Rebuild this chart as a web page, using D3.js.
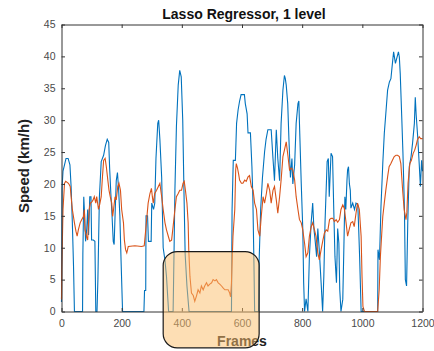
<html>
<head>
<title>Lasso Regressor, 1 level</title>
<script src="https://cdnjs.cloudflare.com/ajax/libs/d3/7.8.5/d3.min.js"></script>
<style>
	body { margin: 0; background: #fff; }
	text { font-family: "Liberation Sans", Arial, Helvetica, sans-serif; }
</style>
</head>
<body>
<div class="datavis"></div>
<script type="text/javascript">

// [frame, speed km/h]
var actual = [[0,1.5],[2,19.5],[5,22],[10,23],[15,24],[22,24],[28,23],[32,19.5],[36,14],[40,7],[43,0],[70,0],[71,9],[74,18],[77,15],[80,11],[84,13],[87,16],[90,12],[94,18],[98,18],[100,11.2],[106,11.2],[111,11],[114,0],[118,0],[121,5],[126,18],[132,23.5],[140,24.5],[146,26],[152,27],[157,26.5],[160,22.5],[164,18.5],[168,15],[172,11],[175,10.5],[178,15],[182,20.5],[186,21.8],[190,19],[194,15],[198,8],[203,0],[274,0],[276,3.3],[280,3.3],[281,15],[286,15],[289,11],[298,11],[300,17],[306,16],[310,17],[314,24],[320,29.5],[323,30],[327,27],[333,21],[338,10],[344,8],[349,5.5],[356,0],[371,0],[374,9],[377,19],[382,29],[388,35.5],[393,37.8],[398,36.8],[403,30],[407,19],[411,9],[417,4],[424,0],[565,0],[567,16],[571,23.7],[578,23.7],[582,29.5],[587,31.6],[592,33],[597,34],[608,34],[611,32.6],[617,31],[620,28],[628,28],[633,22.7],[636,18],[640,6.6],[642,0],[655,0],[657,8],[662,16],[668,21],[675,25],[680,27],[686,28.5],[697,28.5],[703,24],[708,20.5],[714,28.5],[719,24],[725,20.5],[730,29.5],[736,34.7],[741,37],[744,36.5],[747,35.5],[752,32.6],[756,27],[761,21],[766,24],[769,20],[775,23],[780,29.5],[786,32.6],[789,33],[791,29.5],[797,20],[802,13],[805,4.5],[808,0],[813,2],[819,0],[824,8.6],[830,14],[835,17],[839,13],[843,11.2],[848,8.6],[852,13],[857,9.5],[863,4.5],[868,0],[872,5.5],[876,14],[883,23.5],[887,24],[890,18],[896,24.8],[901,24.3],[905,16],[909,8.6],[914,4.5],[918,13],[922,10.7],[925,3.4],[929,0],[935,1.9],[938,8.6],[942,18],[945,16],[949,20.6],[951,22.2],[954,22.7],[957,20],[960,19],[962,16.2],[968,17],[974,16],[979,17],[985,16.7],[988,12.8],[991,8.6],[996,0],[1051,0],[1052,9.7],[1057,8.1],[1062,16.5],[1068,23.2],[1073,27.9],[1079,31.6],[1084,34.7],[1090,36],[1095,36.5],[1100,38.9],[1104,40.7],[1110,38.9],[1120,40.7],[1123,39.9],[1126,37.3],[1131,30.5],[1135,24.8],[1140,16],[1143,5],[1147,4],[1151,13.9],[1156,22.7],[1162,24.3],[1167,26.4],[1173,29.5],[1176,33.6],[1179,30.8],[1184,27.4],[1189,23.2],[1193,19.6],[1197,23.7],[1200,22]];

var predicted = [[0,1.9],[1,6.6],[5,16],[10,20.1],[14,20.4],[23,20.1],[29,19.6],[32,18],[36,16],[43,13.9],[48,12.6],[52,11.8],[56,12.8],[62,13.9],[67,14.4],[73,14.9],[76,16],[78,12.8],[83,11.8],[87,11.2],[92,16],[96,17],[101,17.2],[105,17.5],[109,18],[114,17],[117,18],[123,16],[127,16.8],[132,18],[136,21],[140,23.7],[145,24],[149,22.7],[154,20.6],[158,19],[162,18],[167,17],[170,14.9],[173,16],[178,18],[182,17.5],[187,19.6],[191,20.1],[196,19],[200,16],[206,13.9],[209,11.2],[213,9.7],[217,9.2],[222,10.2],[244,10.3],[266,10.2],[275,10.3],[280,12.8],[284,14.9],[288,17],[294,18.5],[299,19.3],[302,18],[305,17],[310,18.5],[316,19],[322,19.6],[327,20.1],[333,18],[338,16],[344,13.9],[349,12.8],[355,11.8],[360,11],[366,11.2],[371,13.3],[377,16],[382,18],[388,18.5],[393,19],[399,19],[404,20.1],[408,20.4],[412,19],[417,17],[421,13.9],[423,9.7],[427,5.5],[432,2.9],[438,2.5],[443,1.6],[449,2.5],[454,3.4],[460,2.9],[465,4],[471,3.4],[476,4],[482,4.5],[487,4],[493,4.3],[499,4.5],[504,5],[510,4.8],[515,5],[521,4.5],[526,4.3],[532,4],[537,3.7],[543,3.4],[554,3.4],[559,2.9],[562,2.3],[565,4.5],[570,11.8],[576,16],[579,22.2],[581,23.2],[585,22.5],[589,21.5],[592,20.6],[598,20.1],[603,20.1],[609,20.6],[614,20.4],[620,21.1],[625,21.3],[631,19.6],[637,19],[642,17],[648,16],[653,12.8],[659,11.8],[664,14.9],[670,18],[675,17],[681,18.5],[686,20.1],[692,19],[697,17],[703,19],[708,19.6],[714,17.5],[719,15.4],[725,18],[730,20.6],[736,24.3],[741,25.3],[747,26.6],[753,24.3],[758,22.2],[764,22.5],[769,22.2],[775,20.6],[780,18],[786,16],[791,14.4],[797,13.9],[802,12.8],[808,10.7],[813,8.6],[819,9.2],[824,11.8],[830,13.3],[835,13.9],[841,12.8],[846,11.8],[852,9.2],[857,8.1],[863,9.7],[869,11.2],[874,12.3],[880,12.8],[885,12.6],[891,14.4],[896,14.6],[902,14.6],[907,14.1],[913,14.4],[918,14],[924,14.4],[929,16],[935,16.7],[940,16.2],[946,13.9],[951,11.8],[957,13],[962,13.9],[968,14.1],[973,13.3],[979,15.4],[984,17],[990,16],[996,11.8],[999,5.5],[1002,0.8],[1007,0],[1051,0],[1056,3.4],[1060,8.6],[1064,11.8],[1068,14.9],[1073,17],[1078,19],[1084,21.1],[1089,22.7],[1095,23.2],[1100,23.7],[1106,24.3],[1112,24.5],[1117,24.5],[1123,24.3],[1128,23.2],[1134,19],[1139,16],[1145,14.4],[1148,15.5],[1152,20.1],[1158,23.2],[1163,23.7],[1169,24.8],[1174,25.3],[1179,26.1],[1183,26.9],[1189,27.4],[1194,27.1],[1200,27.1]];

var xTicks = [0, 200, 400, 600, 800, 1000, 1200];
var yTicks = [0, 5, 10, 15, 20, 25, 30, 35, 40, 45];

var titleText = "Lasso Regressor, 1 level";
var xLabelText = "Frames";
var yLabelText = "Speed (km/h)";

// highlighted stretch (frames, km/h)
var region = { x0: 338, x1: 657, y0: -5.7, y1: 9.4 };

var W = 434, H = 351;
var x = d3.scaleLinear().domain([0, 1200]).range([61.5, 422.5]);
var y = d3.scaleLinear().domain([0, 45]).range([311.5, 24.5]);
var fmt = d3.format("d");

var svg = d3.select(".datavis")
	.append("svg")
	.attr("width", W)
	.attr("height", H);

var line = d3.line()
	.x(function(d){ return x(d[0]); })
	.y(function(d){ return y(d[1]); });

svg.append("path")
	.datum(actual)
	.attr("d", line)
	.style("fill", "none")
	.style("stroke", "#0072BD")
	.style("stroke-width", 1.1);

svg.append("path")
	.datum(predicted)
	.attr("d", line)
	.style("fill", "none")
	.style("stroke", "#D95319")
	.style("stroke-width", 1.1);

function styleAxis(g){
	g.select(".domain").style("stroke", "#333").style("stroke-width", 1);
	g.selectAll(".tick line").style("stroke", "#333").style("stroke-width", 1);
	g.selectAll(".tick text")
		.style("fill", "#4a4a4a")
		.style("font-size", "10.5px")
		.style("font-family", "'Liberation Sans', Arial, sans-serif");
}

svg.append("g")
	.attr("transform", "translate(0," + y(0) + ")")
	.call(d3.axisBottom(x).tickValues(xTicks).tickFormat(fmt).tickSizeInner(-3.5).tickSizeOuter(0).tickPadding(8))
	.call(styleAxis);

svg.append("g")
	.attr("transform", "translate(0," + y(45) + ")")
	.call(d3.axisTop(x).tickValues(xTicks).tickSizeInner(-3.5).tickSizeOuter(0).tickFormat(""))
	.call(styleAxis);

svg.append("g")
	.attr("transform", "translate(" + x(0) + ",0)")
	.call(d3.axisLeft(y).tickValues(yTicks).tickFormat(fmt).tickSizeInner(-3.5).tickSizeOuter(0).tickPadding(6))
	.call(styleAxis);

svg.append("g")
	.attr("transform", "translate(" + x(1200) + ",0)")
	.call(d3.axisRight(y).tickValues(yTicks).tickSizeInner(-3.5).tickSizeOuter(0).tickFormat(""))
	.call(styleAxis);

svg.append("text")
	.attr("x", 244)
	.attr("y", 19)
	.attr("text-anchor", "middle")
	.style("font-weight", "bold")
	.style("font-size", "14px")
	.style("fill", "#111")
	.text(titleText);

svg.append("text")
	.attr("x", 242)
	.attr("y", 346)
	.attr("text-anchor", "middle")
	.style("font-weight", "bold")
	.style("font-size", "14px")
	.style("fill", "#222")
	.text(xLabelText);

svg.append("text")
	.attr("transform", "translate(29," + 166 + ") rotate(-90)")
	.attr("text-anchor", "middle")
	.style("font-weight", "bold")
	.style("font-size", "15px")
	.style("fill", "#222")
	.text(yLabelText);

// rounded highlight drawn over everything
svg.append("rect")
	.attr("x", x(region.x0))
	.attr("y", y(region.y1))
	.attr("width", x(region.x1) - x(region.x0))
	.attr("height", y(region.y0) - y(region.y1))
	.attr("rx", 14)
	.attr("ry", 14)
	.style("fill", "rgb(251,189,105)")
	.style("fill-opacity", 0.5)
	.style("stroke", "#1a1a1a")
	.style("stroke-width", 1.2);

</script>
</body>
</html>
